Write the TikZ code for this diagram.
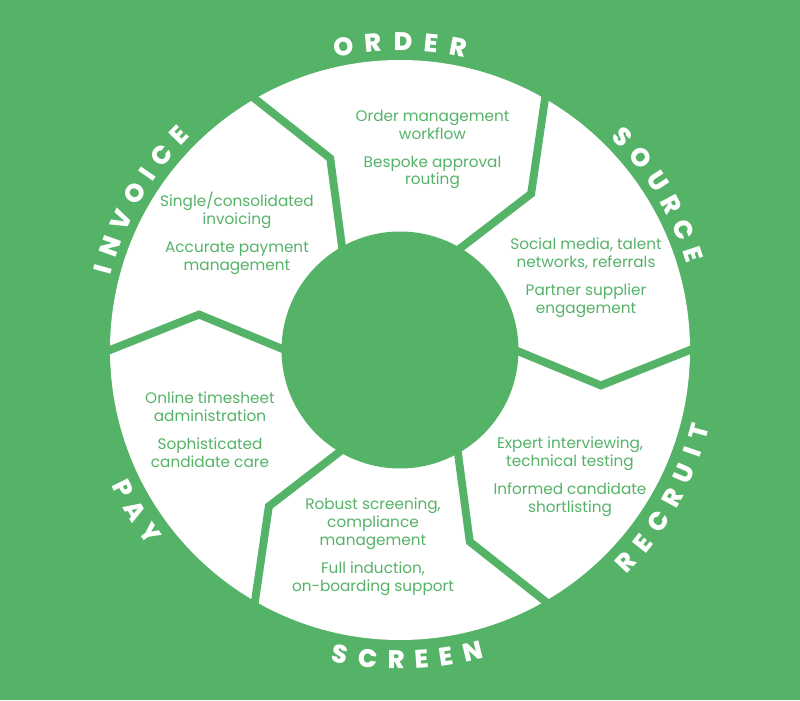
\documentclass[tikz,border=0pt]{standalone}
\usepackage{fontspec}
\usetikzlibrary{decorations.text}
\newfontfamily\wheelfont{Poppins}
\newfontfamily\rimfont{Poppins ExtraBold}
\definecolor{ringgreen}{RGB}{85,179,104}
\newcommand\ringtype{\rimfont\fontsize{14.5}{16}\selectfont}
\newcommand\blurbtype{\wheelfont\fontsize{8.7}{10.2}\selectfont}

\begin{document}
\begin{tikzpicture}[
    divider/.style={draw=ringgreen, line width=4.5pt, line cap=rect},
    blurb/.style={text=ringgreen, font=\blurbtype, align=center},
    ringlabel/.style={decorate, decoration={text along path, text align={fit to path},
        text color=white, text={|\ringtype|#1}}}]
    \useasboundingbox (-8,-7) rectangle (8,7);
    \fill[ringgreen] (-8,-7) rectangle (8,7);
    \fill[white] (0,0) circle (5.8);

    % dividers between the stages
    \draw[divider] (0:2.3) -- (-10:4.08) -- (0:5.8);
    \draw[divider] (60:2.3) -- (50:4.08) -- (60:5.8);
    \draw[divider] (120:2.3) -- (110:4.08) -- (120:5.8);
    \draw[divider] (180:2.3) -- (170:4.08) -- (180:5.8);
    \draw[divider] (240:2.3) -- (230:4.08) -- (240:5.8);
    \draw[divider] (300:2.3) -- (290:4.08) -- (300:5.8);

    \fill[ringgreen] (0,0) circle (2.37);

    % stage names round the rim
    \path[ringlabel=ORDER] (102.5:5.98) arc[start angle=102.5, end angle=77.5, radius=5.98];
    \path[ringlabel=SOURCE] (45.3:5.98) arc[start angle=45.3, end angle=16.7, radius=5.98];
    \path[ringlabel=INVOICE] (165.5:5.98) arc[start angle=165.5, end angle=134.5, radius=5.98];
    \path[ringlabel=RECRUIT] (-44.7:6.38) arc[start angle=-44.7, end angle=-13.9, radius=6.38];
    \path[ringlabel=SCREEN] (257.4:6.38) arc[start angle=257.4, end angle=285.4, radius=6.38];
    \path[ringlabel=PAY] (205.15:6.38) arc[start angle=205.15, end angle=217.85, radius=6.38];

    \node (order) at (0.65, 4.01) [blurb] {Order management\\workflow\\[5.7pt]Bespoke approval\\routing};
    \node (source) at (3.72, 1.44) [blurb] {Social media, talent\\networks, referrals\\[5.7pt]Partner supplier\\engagement};
    \node (recruit) at (3.4, -2.53) [blurb] {Expert interviewing,\\technical testing\\[5.7pt]Informed candidate\\shortlisting};
    \node (screen) at (-0.54, -3.94) [blurb] {Robust screening,\\compliance\\management\\[5.7pt]Full induction,\\on-boarding support};
    \node (pay) at (-3.8, -1.6) [blurb] {Online timesheet\\administration\\[5.7pt]Sophisticated\\candidate care};
    \node (invoice) at (-3.26, 2.34) [blurb] {Single/consolidated\\invoicing\\[5.7pt]Accurate payment\\management};
\end{tikzpicture}
\end{document}
